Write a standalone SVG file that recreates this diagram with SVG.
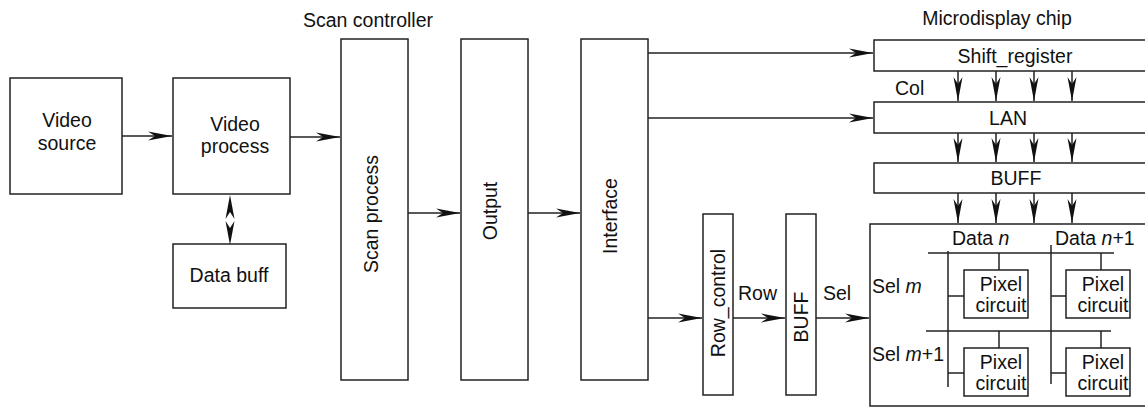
<svg xmlns="http://www.w3.org/2000/svg" width="1145" height="408" viewBox="0 0 1145 408">
<defs>
<style>
.box{fill:#fff;stroke:#222;stroke-width:1.5}
.ln{fill:none;stroke:#222;stroke-width:1.5}
.t{font-family:"Liberation Sans",Arial,sans-serif;font-size:19.5px;fill:#111}
.m{text-anchor:middle}
.i{font-style:italic}
</style>
<marker id="ah" viewBox="-25 -6 26 12" refX="0" refY="0" markerUnits="userSpaceOnUse" markerWidth="26" markerHeight="12" orient="auto-start-reverse">
<path d="M0,0 L-24,-4.5 L-17,0 L-24,4.5 Z" fill="#111"/>
</marker>
</defs>
<rect width="1145" height="408" fill="#fff"/>

<text class="t m" x="368" y="27">Scan controller</text>
<text class="t m" x="997" y="25">Microdisplay chip</text>

<g id="video-source">
<rect class="box" x="10" y="78" width="112" height="116"/>
<text class="t m" x="67" y="127">Video</text>
<text class="t m" x="67" y="150">source</text>
</g>
<g id="video-process">
<rect class="box" x="173" y="78" width="117" height="116"/>
<text class="t m" x="235" y="131">Video</text>
<text class="t m" x="235" y="153">process</text>
</g>
<g id="data-buff">
<rect class="box" x="173" y="244" width="113" height="64"/>
<text class="t m" x="229" y="282">Data buff</text>
</g>
<g id="scan-process">
<rect class="box" x="341" y="39" width="67" height="341"/>
<text class="t m" transform="translate(378,214) rotate(-90)">Scan process</text>
</g>
<g id="output">
<rect class="box" x="461" y="39" width="67" height="341"/>
<text class="t m" transform="translate(497,211) rotate(-90)">Output</text>
</g>
<g id="interface">
<rect class="box" x="581" y="39" width="67" height="341"/>
<text class="t m" transform="translate(617,216) rotate(-90)">Interface</text>
</g>
<g id="row-control">
<rect class="box" x="703" y="214" width="30" height="181"/>
<text class="t m" transform="translate(725,303) rotate(-90)">Row_control</text>
</g>
<g id="row-buff">
<rect class="box" x="786" y="214" width="30" height="181"/>
<text class="t m" transform="translate(808,317) rotate(-90)">BUFF</text>
</g>
<g id="shift-register">
<rect class="box" x="874" y="40" width="290" height="31"/>
<text class="t m" x="1015" y="63">Shift_register</text>
</g>
<g id="lan">
<rect class="box" x="874" y="102" width="290" height="31"/>
<text class="t m" x="1008" y="125">LAN</text>
</g>
<g id="col-buff">
<rect class="box" x="874" y="163" width="290" height="30"/>
<text class="t m" x="1016" y="185">BUFF</text>
</g>
<g id="pixel-array">
<rect class="box" x="870" y="224" width="290" height="182"/>
<text class="t" x="952" y="245">Data <tspan class="i">n</tspan></text>
<text class="t" x="1055" y="245">Data <tspan class="i">n</tspan>+1</text>
<text class="t" x="872" y="293">Sel <tspan class="i">m</tspan></text>
<text class="t" x="872" y="361">Sel <tspan class="i">m</tspan>+1</text>
<line class="ln" x1="928" y1="253" x2="1114" y2="253"/>
<line class="ln" x1="926" y1="331" x2="1111" y2="331"/>
<line class="ln" x1="948" y1="251" x2="948" y2="387"/>
<line class="ln" x1="1051" y1="245" x2="1051" y2="384"/>
<line class="ln" x1="999" y1="253" x2="999" y2="270"/>
<line class="ln" x1="1101" y1="253" x2="1101" y2="270"/>
<line class="ln" x1="999" y1="331" x2="999" y2="348"/>
<line class="ln" x1="1101" y1="331" x2="1101" y2="348"/>
<line class="ln" x1="948" y1="296" x2="964" y2="296"/>
<line class="ln" x1="1051" y1="296" x2="1066" y2="296"/>
<line class="ln" x1="948" y1="373" x2="964" y2="373"/>
<line class="ln" x1="1051" y1="373" x2="1066" y2="373"/>
<g id="pixel-1"><rect class="box" x="964" y="270" width="64" height="48"/><text class="t m" x="1001" y="291">Pixel</text><text class="t m" x="1001" y="312">circuit</text></g>
<g id="pixel-2"><rect class="box" x="1066" y="270" width="64" height="48"/><text class="t m" x="1103" y="291">Pixel</text><text class="t m" x="1103" y="312">circuit</text></g>
<g id="pixel-3"><rect class="box" x="964" y="348" width="64" height="48"/><text class="t m" x="1001" y="369">Pixel</text><text class="t m" x="1001" y="390">circuit</text></g>
<g id="pixel-4"><rect class="box" x="1066" y="348" width="64" height="48"/><text class="t m" x="1103" y="369">Pixel</text><text class="t m" x="1103" y="390">circuit</text></g>
</g>

<g id="connectors">
<line class="ln" x1="122" y1="136" x2="172" y2="136" marker-end="url(#ah)"/>
<line class="ln" x1="290" y1="137" x2="340" y2="137" marker-end="url(#ah)"/>
<path d="M230,195 L230,245" fill="none" stroke="none" marker-start="url(#ah)" marker-end="url(#ah)"/>
<line class="ln" x1="408" y1="213" x2="460" y2="213" marker-end="url(#ah)"/>
<line class="ln" x1="528" y1="213" x2="580" y2="213" marker-end="url(#ah)"/>
<line class="ln" x1="648" y1="53" x2="873" y2="53" marker-end="url(#ah)"/>
<line class="ln" x1="648" y1="118" x2="873" y2="118" marker-end="url(#ah)"/>
<line class="ln" x1="648" y1="318" x2="702" y2="318" marker-end="url(#ah)"/>
<line class="ln" x1="733" y1="318" x2="785" y2="318" marker-end="url(#ah)"/>
<line class="ln" x1="816" y1="318" x2="869" y2="318" marker-end="url(#ah)"/>
<text class="t" x="738" y="300">Row</text>
<text class="t" x="823" y="300">Sel</text>
<text class="t" x="895" y="95">Col</text>
<line class="ln" x1="958" y1="71" x2="958" y2="101" marker-end="url(#ah)"/>
<line class="ln" x1="996" y1="71" x2="996" y2="101" marker-end="url(#ah)"/>
<line class="ln" x1="1034" y1="71" x2="1034" y2="101" marker-end="url(#ah)"/>
<line class="ln" x1="1072" y1="71" x2="1072" y2="101" marker-end="url(#ah)"/>
<line class="ln" x1="958" y1="133" x2="958" y2="162" marker-end="url(#ah)"/>
<line class="ln" x1="996" y1="133" x2="996" y2="162" marker-end="url(#ah)"/>
<line class="ln" x1="1034" y1="133" x2="1034" y2="162" marker-end="url(#ah)"/>
<line class="ln" x1="1072" y1="133" x2="1072" y2="162" marker-end="url(#ah)"/>
<line class="ln" x1="958" y1="193" x2="958" y2="223" marker-end="url(#ah)"/>
<line class="ln" x1="996" y1="193" x2="996" y2="223" marker-end="url(#ah)"/>
<line class="ln" x1="1034" y1="193" x2="1034" y2="223" marker-end="url(#ah)"/>
<line class="ln" x1="1072" y1="193" x2="1072" y2="223" marker-end="url(#ah)"/>
</g>
</svg>
